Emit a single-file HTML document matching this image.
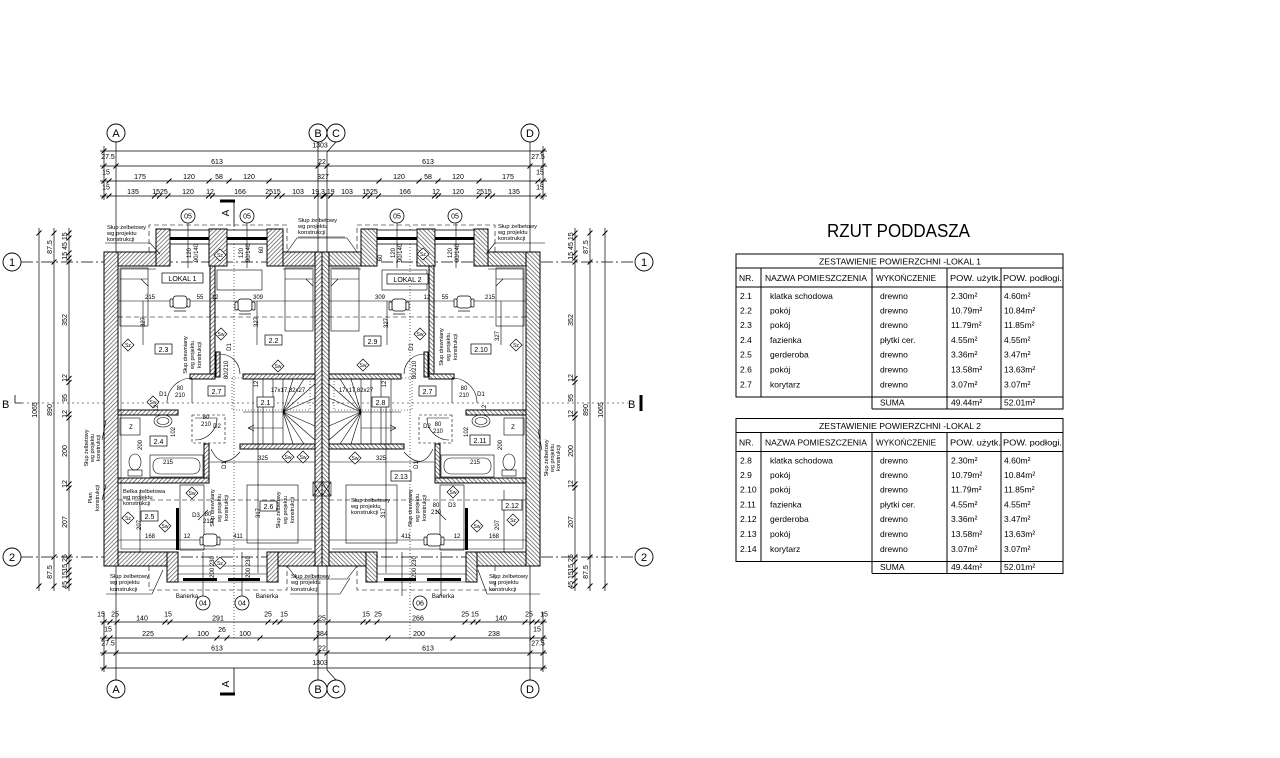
<!DOCTYPE html>
<html><head><meta charset="utf-8">
<style>
html,body{margin:0;padding:0;background:#fff}
svg{display:block}
text{font-family:"Liberation Sans",sans-serif;fill:#000}
.d{font-size:7px;text-anchor:middle}
.s{font-size:6px;text-anchor:middle}
.x{font-size:5px;text-anchor:middle}
.tb{font-size:8.5px}
.g{font-size:11px;text-anchor:middle}
</style></head><body>
<svg width="1280" height="758" viewBox="0 0 1280 758" xmlns="http://www.w3.org/2000/svg">
<defs>
<pattern id="h" width="3" height="3" patternUnits="userSpaceOnUse" patternTransform="rotate(45)"><rect width="3" height="3" fill="#fff"/><line x1="0" y1="0" x2="0" y2="3" stroke="#444" stroke-width="1.3"/></pattern>
</defs>
<rect width="1280" height="758" fill="#fff"/>

<!-- ===== GRID & DIMENSION LINES ===== -->
<g stroke="#000" stroke-width="0.7" fill="none">
<path d="M116 142V680M318 142V680M336 142L327 152V670L336 680M530 142V680"/>
<path d="M104 146V200M543 146V200M104 612V672M543 612V672"/>
<path d="M100 151H547M100 166H547M100 181H547M100 196H547"/>
<path d="M100 622H547M100 638H547M100 653H547M100 668H547"/>
<path d="M39 228V591M54 228V591M69 228V591M575 228V591M590 228V591M605 228V591"/>
</g>
<g stroke="#000" stroke-width="0.7" fill="none" stroke-dasharray="12 3 2 3">
<path d="M21 262H635M21 557H635"/>
</g>
<g stroke="#000" stroke-width="0.6" fill="none" stroke-dasharray="2 3">
<path d="M22 403H628"/>
</g>
<!-- ticks -->
<g stroke="#000" stroke-width="1" fill="none">
<path d="M101.5 153.5l5-5M540.5 153.5l5-5"/>
<path d="M101.5 168.5l5-5M113.5 168.5l5-5M315.5 168.5l5-5M324.5 168.5l5-5M527.5 168.5l5-5M540.5 168.5l5-5"/>
<path d="M101.5 183.5l5-5M106.5 183.5l5-5M166.5 183.5l5-5M206.5 183.5l5-5M226.5 183.5l5-5M266.5 183.5l5-5M376.5 183.5l5-5M416.5 183.5l5-5M435.5 183.5l5-5M476.5 183.5l5-5M535.5 183.5l5-5M540.5 183.5l5-5"/>
<path d="M101.5 198.5l5-5M106.5 198.5l5-5M152 198.5l5-5M157 198.5l5-5M165.5 198.5l5-5M206 198.5l5-5M210 198.5l5-5M266 198.5l5-5M274.5 198.5l5-5M279.5 198.5l5-5M314 198.5l5-5M320.5 198.5l5-5M321.5 198.5l5-5M328 198.5l5-5M362.5 198.5l5-5M367.5 198.5l5-5M376 198.5l5-5M432 198.5l5-5M436 198.5l5-5M476.5 198.5l5-5M485 198.5l5-5M490 198.5l5-5M535.5 198.5l5-5M540.5 198.5l5-5"/>
<path d="M101.5 624.5l5-5M107.5 624.5l5-5M114.5 624.5l5-5M162.5 624.5l5-5M167.5 624.5l5-5M265.5 624.5l5-5M272.5 624.5l5-5M277.5 624.5l5-5M313.5 624.5l5-5M325.5 624.5l5-5M360.5 624.5l5-5M365.5 624.5l5-5M374.5 624.5l5-5M462.5 624.5l5-5M470.5 624.5l5-5M475.5 624.5l5-5M522.5 624.5l5-5M529.5 624.5l5-5M534.5 624.5l5-5M540.5 624.5l5-5"/>
<path d="M101.5 640.5l5-5M107.5 640.5l5-5M182.5 640.5l5-5M214.5 640.5l5-5M224.5 640.5l5-5M257.5 640.5l5-5M313.5 640.5l5-5M385.5 640.5l5-5M450.5 640.5l5-5M529.5 640.5l5-5M540.5 640.5l5-5"/>
<path d="M101.5 655.5l5-5M113.5 655.5l5-5M315.5 655.5l5-5M324.5 655.5l5-5M527.5 655.5l5-5M540.5 655.5l5-5"/>
<path d="M101.5 670.5l5-5M540.5 670.5l5-5"/>
<path d="M36.5 235.5l5-5M36.5 588.5l5-5M51.5 235.5l5-5M51.5 264.5l5-5M51.5 559.5l5-5M51.5 588.5l5-5"/>
<path d="M66.5 235.5l5-5M66.5 240.5l5-5M66.5 255.5l5-5M66.5 260.5l5-5M66.5 264.5l5-5M66.5 381l5-5M66.5 385l5-5M66.5 416.5l5-5M66.5 420.5l5-5M66.5 486.5l5-5M66.5 490.5l5-5M66.5 559.5l5-5M66.5 564.5l5-5M66.5 572.5l5-5M66.5 577.5l5-5M66.5 583.5l5-5M66.5 588.5l5-5"/>
<path d="M602.5 235.5l5-5M602.5 588.5l5-5M587.5 235.5l5-5M587.5 264.5l5-5M587.5 559.5l5-5M587.5 588.5l5-5"/>
<path d="M572.5 235.5l5-5M572.5 240.5l5-5M572.5 255.5l5-5M572.5 260.5l5-5M572.5 264.5l5-5M572.5 381l5-5M572.5 385l5-5M572.5 416.5l5-5M572.5 420.5l5-5M572.5 486.5l5-5M572.5 490.5l5-5M572.5 559.5l5-5M572.5 564.5l5-5M572.5 572.5l5-5M572.5 577.5l5-5M572.5 583.5l5-5M572.5 588.5l5-5"/>
</g>

<!-- grid circles -->
<g stroke="#000" stroke-width="0.9" fill="#fff">
<circle cx="116" cy="133" r="9"/><circle cx="318" cy="133" r="9"/><circle cx="336" cy="133" r="9"/><circle cx="530" cy="133" r="9"/>
<circle cx="116" cy="689" r="9"/><circle cx="318" cy="689" r="9"/><circle cx="336" cy="689" r="9"/><circle cx="530" cy="689" r="9"/>
<circle cx="12" cy="262" r="9"/><circle cx="12" cy="557" r="9"/><circle cx="644" cy="262" r="9"/><circle cx="644" cy="557" r="9"/>
</g>
<text class="g" x="116" y="137">A</text><text class="g" x="318" y="137">B</text><text class="g" x="336" y="137">C</text><text class="g" x="530" y="137">D</text>
<text class="g" x="116" y="693">A</text><text class="g" x="318" y="693">B</text><text class="g" x="336" y="693">C</text><text class="g" x="530" y="693">D</text>
<text class="g" x="12" y="266">1</text><text class="g" x="12" y="561">2</text><text class="g" x="644" y="266">1</text><text class="g" x="644" y="561">2</text>

<!-- section markers -->
<g stroke="#000" fill="none">
<path d="M220 201H235" stroke-width="3"/><path d="M234 201V226" stroke-width="0.8"/>
<path d="M220 694H235" stroke-width="3"/><path d="M234 668V694" stroke-width="0.8"/>
<path d="M15 403H22M15 395V403" stroke-width="0.8"/>
<path d="M641 395V411" stroke-width="3"/>
</g>
<text font-size="10" text-anchor="middle" transform="translate(229,213) rotate(-90)">A</text>
<text font-size="10" text-anchor="middle" transform="translate(229,684) rotate(-90)">A</text>
<text font-size="11" x="2" y="408">B</text>
<text font-size="11" x="628" y="408">B</text>

<!-- ===== LEFT HALF GEOMETRY ===== -->
<g id="L">
 <g fill="none" stroke="#000" stroke-width="0.6" stroke-dasharray="1 2">
  <path d="M234 226V640"/>
  <path d="M232 378H310V410H232Z"/>
 </g>
 <g fill="url(#h)" stroke="#000" stroke-width="1">
  <rect x="104" y="252" width="14" height="314"/>
  <rect x="118" y="252" width="38" height="14"/>
  <rect x="156" y="229" width="14" height="37"/>
  <rect x="209" y="229" width="18" height="37"/>
  <rect x="267" y="229" width="16" height="37"/>
  <rect x="283" y="252" width="32" height="14"/>
  <rect x="118" y="552" width="49" height="14"/>
  <rect x="167" y="552" width="11" height="30"/>
  <rect x="267" y="552" width="11" height="30"/>
  <rect x="278" y="552" width="37" height="14"/>
  <rect x="315" y="252" width="7" height="314"/>
  <rect x="210" y="266" width="5" height="108"/>
  <rect x="190" y="374" width="25" height="5"/>
  <rect x="216" y="352" width="4" height="25"/>
  <rect x="243" y="374" width="72" height="5"/>
  <rect x="240" y="444" width="75" height="5"/>
  <rect x="118" y="410" width="60" height="5"/>
  <rect x="204" y="444" width="5" height="39"/>
  <rect x="118" y="478" width="91" height="5"/>
 </g>
 <g fill="none" stroke="#000" stroke-width="0.5">
  <path d="M121 269V549H312M121 269H156M283 269H312"/>
 </g>
 <g stroke="#000" stroke-width="0.8" fill="#fff">
  <rect x="170" y="230" width="39" height="14"/>
  <rect x="227" y="230" width="40" height="14"/>
 </g>
 <rect x="170" y="237" width="39" height="3" fill="#000"/>
 <rect x="227" y="237" width="40" height="3" fill="#000"/>
 <rect x="183" y="578" width="34" height="3" fill="#000"/>
 <rect x="228" y="578" width="32" height="3" fill="#000"/>
 <rect x="176" y="508" width="3" height="42" fill="#000"/>
 <g fill="none" stroke="#000" stroke-width="0.6" stroke-dasharray="5 3">
  <path d="M149 252V225H287V252"/>
  <path d="M149 566V590H287V566"/>
  <path d="M118 317H315"/>
  <path d="M118 500H315"/>
 </g>
 <g fill="none" stroke="#000" stroke-width="0.6">
  <path d="M287 252L297 238H322M287 566L297 579H322"/>
  <path d="M178 566H267M178 574H267M178 582H267"/>
  <path d="M188 223V268M247 223V268M203 596V552M242 596V552"/>
  <rect x="120" y="268" width="28" height="58"/>
  <path d="M120 279H148M141 279L148 286"/>
  <rect x="285" y="268" width="28" height="63"/>
  <path d="M285 279H313M306 279L313 286"/>
  <rect x="217" y="270" width="45" height="20"/>
  <path d="M118 301H315M210 462H315M118 540H315"/>
  <path d="M143 301V345M257 301V345M140 490V552M258 400V573"/>
  <path d="M243 412H283M253 379V444M263 379V444M273 379V444M283 379V444"/>
  <path d="M283 412L293 379M283 412L304 379M283 412L315 384M283 412L315 398M283 412L315 412M283 412L315 426M283 412L315 440M283 412L304 444M283 412L293 444"/>
  <path d="M248 428H283M248 428l6-3M248 428l6 3"/>
  <rect x="247" y="485" width="51" height="58"/>
  <rect x="180" y="485" width="24" height="65"/>
  <path d="M167 403A25 25 0 0 1 192 378M192 378V403"/>
  <path d="M220 354A20 20 0 0 1 240 374M220 354V374"/>
  <path d="M217 418A22 22 0 0 1 195 440M195 418H217"/>
  <path d="M211 449Q222 472 240 452"/>
  <rect x="192" y="415" width="33" height="28" stroke-dasharray="3 2"/>
  <ellipse cx="163" cy="421" rx="9" ry="6"/>
  <ellipse cx="163" cy="421" rx="6" ry="3.5"/>
  <rect x="120" y="418" width="20" height="17"/>
  <ellipse cx="135" cy="462" rx="6" ry="8"/>
  <rect x="128" y="470" width="14" height="6"/>
  <rect x="150" y="455" width="53" height="22"/>
  <rect x="153" y="458" width="47" height="16" rx="7"/>
  <rect x="313" y="482" width="9" height="14"/>
  <path d="M313 482L322 496M322 482L313 496"/>
  <path d="M208 510L198 520"/>
 </g>
 <g fill="#fff" stroke="#000" stroke-width="0.7">
  <g transform="translate(180,302)"><rect x="-7" y="-6" width="14" height="12" rx="3"/><rect x="-10" y="-3" width="3" height="8" rx="1"/><rect x="7" y="-3" width="3" height="8" rx="1"/><path d="M-6 9H6" fill="none"/></g>
  <g transform="translate(245,305)"><rect x="-7" y="-6" width="14" height="12" rx="3"/><rect x="-10" y="-3" width="3" height="8" rx="1"/><rect x="7" y="-3" width="3" height="8" rx="1"/><path d="M-6 9H6" fill="none"/></g>
  <g transform="translate(210,540)"><rect x="-7" y="-6" width="14" height="12" rx="3"/><rect x="-10" y="-3" width="3" height="8" rx="1"/><rect x="7" y="-3" width="3" height="8" rx="1"/></g>
 </g>
</g>
<use href="#L" transform="matrix(-1 0 0 1 644 0)"/>

<!-- leader lines for labels -->
<g fill="none" stroke="#000" stroke-width="0.6">
<path d="M105 243H150L160 254"/>
<path d="M298 237H345"/>
<path d="M495 243H545M495 243L486 254"/>
<path d="M106 594H152L163 570"/>
<path d="M290 594H340L350 578"/>
<path d="M487 594H540M487 594L478 570"/>
<path d="M102 440L106 420M102 500L106 485M542 450L538 430"/>
</g>

<!-- 05 / 04 / 06 circles -->
<g stroke="#000" stroke-width="0.8" fill="#fff">
<circle cx="188" cy="216" r="7"/><circle cx="247" cy="216" r="7"/><circle cx="397" cy="216" r="7"/><circle cx="455" cy="216" r="7"/>
<circle cx="203" cy="603" r="7"/><circle cx="242" cy="603" r="7"/><circle cx="420" cy="603" r="7"/>
</g>
<text class="d" x="188" y="218.5">05</text><text class="d" x="247" y="218.5">05</text><text class="d" x="397" y="218.5">05</text><text class="d" x="455" y="218.5">05</text>
<text class="d" x="203" y="605.5">04</text><text class="d" x="242" y="605.5">04</text><text class="d" x="420" y="605.5">06</text>
<text class="s" x="187" y="598">Barierka</text><text class="s" x="267" y="598">Barierka</text><text class="s" x="443" y="598">Barierka</text>

<!-- top dims text -->
<text class="d" x="320" y="147.5">1303</text>
<text class="d" x="108" y="159">27.5</text><text class="d" x="217" y="164">613</text><text class="d" x="322" y="164">22</text><text class="d" x="428" y="164">613</text><text class="d" x="538" y="159">27.5</text>
<text class="d" x="106" y="174.5">15</text><text class="d" x="140" y="179">175</text><text class="d" x="189" y="179">120</text><text class="d" x="219" y="179">58</text><text class="d" x="249" y="179">120</text><text class="d" x="323" y="179">327</text><text class="d" x="399" y="179">120</text><text class="d" x="428" y="179">58</text><text class="d" x="458" y="179">120</text><text class="d" x="508" y="179">175</text><text class="d" x="540" y="174.5">15</text>
<text class="d" x="106" y="189.5">15</text><text class="d" x="133" y="194">135</text><text class="d" x="160" y="194">1525</text><text class="d" x="188" y="194">120</text><text class="d" x="210" y="194">12</text><text class="d" x="240" y="194">166</text><text class="d" x="273" y="194">2515</text><text class="d" x="298" y="194">103</text><text class="d" x="323" y="194">19,3 19</text><text class="d" x="347" y="194">103</text><text class="d" x="370" y="194">1525</text><text class="d" x="405" y="194">166</text><text class="d" x="436" y="194">12</text><text class="d" x="458" y="194">120</text><text class="d" x="484" y="194">2515</text><text class="d" x="514" y="194">135</text><text class="d" x="540" y="189.5">15</text>

<!-- bottom dims text -->
<text class="d" x="101" y="616.5">15</text><text class="d" x="115" y="616.5">25</text><text class="d" x="142" y="620.5">140</text><text class="d" x="168" y="616.5">15</text><text class="d" x="218" y="620.5">291</text><text class="d" x="268" y="616.5">25</text><text class="d" x="284" y="616.5">15</text><text class="d" x="322" y="620.5">25</text><text class="d" x="366" y="616.5">15</text><text class="d" x="378" y="616.5">25</text><text class="d" x="418" y="620.5">266</text><text class="d" x="470" y="616.5">25 15</text><text class="d" x="501" y="620.5">140</text><text class="d" x="529" y="616.5">25</text><text class="d" x="544" y="616.5">15</text>
<text class="d" x="108" y="631.5">15</text><text class="d" x="148" y="636">225</text><text class="d" x="203" y="636">100</text><text class="d" x="222" y="632">26</text><text class="d" x="245" y="636">100</text><text class="d" x="322" y="636">384</text><text class="d" x="419" y="636">200</text><text class="d" x="494" y="636">238</text><text class="d" x="537" y="631.5">15</text>
<text class="d" x="108" y="645.5">27.5</text><text class="d" x="217" y="650.5">613</text><text class="d" x="322" y="650.5">22</text><text class="d" x="428" y="650.5">613</text><text class="d" x="538" y="645.5">27.5</text>
<text class="d" x="320" y="665">1303</text>

<!-- vertical dims -->
<g class="d">
<text transform="translate(37,410) rotate(-90)">1065</text>
<text transform="translate(52,410) rotate(-90)">890</text>
<text transform="translate(52,247) rotate(-90)">87.5</text>
<text transform="translate(52,572) rotate(-90)">87.5</text>
<text transform="translate(67,246) rotate(-90)">15 45 15</text>
<text transform="translate(67,320) rotate(-90)">352</text>
<text transform="translate(67,378) rotate(-90)">12</text>
<text transform="translate(67,398) rotate(-90)">95</text>
<text transform="translate(67,414) rotate(-90)">12</text>
<text transform="translate(67,451) rotate(-90)">200</text>
<text transform="translate(67,484) rotate(-90)">12</text>
<text transform="translate(67,522) rotate(-90)">207</text>
<text transform="translate(67,563) rotate(-90)">15 25</text>
<text transform="translate(67,580) rotate(-90)">45 15</text>
<text transform="translate(603,410) rotate(-90)">1065</text>
<text transform="translate(588,410) rotate(-90)">890</text>
<text transform="translate(588,247) rotate(-90)">87.5</text>
<text transform="translate(588,572) rotate(-90)">87.5</text>
<text transform="translate(573,246) rotate(-90)">15 45 15</text>
<text transform="translate(573,320) rotate(-90)">352</text>
<text transform="translate(573,378) rotate(-90)">12</text>
<text transform="translate(573,398) rotate(-90)">95</text>
<text transform="translate(573,414) rotate(-90)">12</text>
<text transform="translate(573,451) rotate(-90)">200</text>
<text transform="translate(573,484) rotate(-90)">12</text>
<text transform="translate(573,522) rotate(-90)">207</text>
<text transform="translate(573,563) rotate(-90)">15 25</text>
<text transform="translate(573,580) rotate(-90)">45 15</text>
</g>

<!-- room label boxes -->
<g fill="#fff" stroke="#000" stroke-width="0.7">
<rect x="162" y="273" width="41" height="10"/><rect x="387" y="274" width="41" height="10"/>
<rect x="155" y="344" width="17" height="10"/><rect x="265" y="335" width="17" height="10"/>
<rect x="208" y="386" width="17" height="10"/><rect x="257" y="397" width="17" height="10"/>
<rect x="150" y="436" width="17" height="10"/><rect x="141" y="511" width="17" height="10"/>
<rect x="260" y="501" width="17" height="10"/>
<rect x="364" y="336" width="17" height="10"/><rect x="471" y="344" width="20" height="10"/>
<rect x="419" y="386" width="17" height="10"/><rect x="372" y="397" width="17" height="10"/>
<rect x="470" y="435" width="20" height="10"/><rect x="502" y="500" width="20" height="10"/>
<rect x="391" y="471" width="20" height="10"/>
</g>
<g class="d">
<text x="182.5" y="281">LOKAL 1</text><text x="407.5" y="282">LOKAL 2</text>
<text x="163.5" y="352">2.3</text><text x="273.5" y="343">2.2</text>
<text x="216.5" y="394">2.7</text><text x="265.5" y="405">2.1</text>
<text x="158.5" y="444">2.4</text><text x="149.5" y="519">2.5</text>
<text x="268.5" y="509">2.6</text>
<text x="372.5" y="344">2.9</text><text x="481" y="352">2.10</text>
<text x="427.5" y="394">2.7</text><text x="380.5" y="405">2.8</text>
<text x="480" y="443">2.11</text><text x="512" y="508">2.12</text>
<text x="401" y="479">2.13</text>
</g>

<!-- diamonds -->
<g fill="#fff" stroke="#000" stroke-width="0.7">
<path d="M128 339l6 6-6 6-6-6z M221 328l6 6-6 6-6-6z M220 249l6 6-6 6-6-6z M278 360l6 6-6 6-6-6z M153 396l6 6-6 6-6-6z M128 512l6 6-6 6-6-6z M165 520l6 6-6 6-6-6z M192 487l6 6-6 6-6-6z M220 557l6 6-6 6-6-6z M288 451l6 6-6 6-6-6z M303 451l6 6-6 6-6-6z"/>
<path d="M516 339l6 6-6 6-6-6z M420 328l6 6-6 6-6-6z M423 248l6 6-6 6-6-6z M363 359l6 6-6 6-6-6z M355 452l6 6-6 6-6-6z M453 486l6 6-6 6-6-6z M477 520l6 6-6 6-6-6z M513 514l6 6-6 6-6-6z"/>
</g>
<g class="x">
<text x="128" y="347">Sz</text><text x="221" y="336">Sw</text><text x="220" y="257">Sz</text><text x="278" y="368">Sw</text><text x="153" y="404">Sw</text><text x="128" y="520">Sz</text><text x="165" y="528">Sw</text><text x="192" y="495">Sw</text><text x="220" y="565">Sz</text><text x="288" y="459">Sw</text><text x="303" y="459">Sw</text>
<text x="516" y="347">Sz</text><text x="420" y="336">Sw</text><text x="423" y="256">Sz</text><text x="363" y="367">Sw</text><text x="355" y="460">Sw</text><text x="453" y="494">Sw</text><text x="477" y="528">Sw</text><text x="513" y="522">Sz</text>
</g>

<!-- small plan texts -->
<g class="s">
<text x="150" y="299">215</text><text x="200" y="299">55</text><text x="215" y="299">12</text><text x="258" y="299">309</text>
<text x="380" y="299">309</text><text x="427" y="299">12</text><text x="445" y="299">55</text><text x="490" y="299">215</text>
<text x="263" y="460">325</text><text x="381" y="460">325</text>
<text x="168" y="464">215</text><text x="475" y="464">215</text>
<text x="150" y="538">168</text><text x="187" y="538">12</text><text x="238" y="538">411</text>
<text x="406" y="538">411</text><text x="457" y="538">12</text><text x="494" y="538">168</text>
<text x="288" y="392">17x17,82x27</text><text x="356" y="392">17x17,82x27</text>
<text x="163" y="396">D1</text><text x="217" y="428">D2</text><text x="196" y="517">D3</text>
<text x="481" y="396">D1</text><text x="427" y="428">D2</text><text x="452" y="507">D3</text>
<text x="180" y="390">80</text><text x="180" y="397">210</text>
<text x="464" y="390">80</text><text x="464" y="397">210</text>
<text x="206" y="419">80</text><text x="206" y="426">210</text>
<text x="438" y="426">80</text><text x="438" y="433">210</text>
<text x="208" y="516">80</text><text x="208" y="523">210</text>
<text x="436" y="507">80</text><text x="436" y="514">210</text>
<text x="131" y="429">Z</text><text x="513" y="429">Z</text>
<text transform="translate(145,322) rotate(-90)">327</text><text transform="translate(258,322) rotate(-90)">327</text>
<text transform="translate(388,323) rotate(-90)">327</text><text transform="translate(499,336) rotate(-90)">327</text>
<text transform="translate(142,445) rotate(-90)">200</text><text transform="translate(502,445) rotate(-90)">200</text>
<text transform="translate(141,525) rotate(-90)">207</text><text transform="translate(499,525) rotate(-90)">207</text>
<text transform="translate(260,513) rotate(-90)">317</text><text transform="translate(385,513) rotate(-90)">317</text>
<text transform="translate(175,432) rotate(-90)">102</text><text transform="translate(468,432) rotate(-90)">102</text>
<text transform="translate(191,253) rotate(-90)">120</text><text transform="translate(198,253) rotate(-90)">90/140</text>
<text transform="translate(243,253) rotate(-90)">120</text><text transform="translate(250,253) rotate(-90)">90/140</text>
<text transform="translate(263,250) rotate(-90)">60</text><text transform="translate(382,258) rotate(-90)">60</text>
<text transform="translate(395,253) rotate(-90)">120</text><text transform="translate(402,253) rotate(-90)">90/140</text>
<text transform="translate(452,253) rotate(-90)">120</text><text transform="translate(459,253) rotate(-90)">90/140</text>
<text transform="translate(158,408) rotate(-90)">12</text><text transform="translate(258,384) rotate(-90)">12</text>
<text transform="translate(386,384) rotate(-90)">12</text><text transform="translate(486,408) rotate(-90)">12</text>
<text transform="translate(231,347) rotate(-90)">D1</text><text transform="translate(413,347) rotate(-90)">D1</text>
<text transform="translate(228,370) rotate(-90)">80/210</text><text transform="translate(416,370) rotate(-90)">80/210</text>
<text transform="translate(226,465) rotate(-90)">D1</text><text transform="translate(418,465) rotate(-90)">D1</text>
<text transform="translate(214,567) rotate(-90)">200 230</text><text transform="translate(250,567) rotate(-90)">200 230</text>
<text transform="translate(416,567) rotate(-90)">200 230</text>
</g>

<!-- Slup labels -->
<g style="font-size:5.8px">
<text x="107" y="229">Słup żelbetowy</text><text x="107" y="235">wg projektu</text><text x="107" y="241">konstrukcji</text>
<text x="298" y="222">Słup żelbetowy</text><text x="298" y="228">wg projektu</text><text x="298" y="234">konstrukcji</text>
<text x="498" y="228">Słup żelbetowy</text><text x="498" y="234">wg projektu</text><text x="498" y="240">konstrukcji</text>
<text x="110" y="578">Słup żelbetowy</text><text x="110" y="584">wg projektu</text><text x="110" y="591">konstrukcji</text>
<text x="291" y="578">Słup żelbetowy</text><text x="291" y="584">wg projektu</text><text x="291" y="591">konstrukcji</text>
<text x="489" y="578">Słup żelbetowy</text><text x="489" y="584">wg projektu</text><text x="489" y="591">konstrukcji</text>
<text x="123" y="493">Belka żelbetowa</text><text x="123" y="499">wg projektu</text><text x="123" y="505">konstrukcji</text>
<text x="351" y="502">Słup żelbetowy</text><text x="351" y="508">wg projektu</text><text x="351" y="514">konstrukcji</text>
</g>
<g style="font-size:5.5px;text-anchor:middle">
<text transform="translate(187,355) rotate(-90)">Słup drewniany</text><text transform="translate(194,355) rotate(-90)">wg projektu</text><text transform="translate(201,355) rotate(-90)">konstrukcji</text>
<text transform="translate(443,347) rotate(-90)">Słup drewniany</text><text transform="translate(450,347) rotate(-90)">wg projektu</text><text transform="translate(457,347) rotate(-90)">konstrukcji</text>
<text transform="translate(214,508) rotate(-90)">Słup drewniany</text><text transform="translate(221,508) rotate(-90)">wg projektu</text><text transform="translate(228,508) rotate(-90)">konstrukcji</text>
<text transform="translate(412,508) rotate(-90)">Słup drewniany</text><text transform="translate(419,508) rotate(-90)">wg projektu</text><text transform="translate(426,508) rotate(-90)">konstrukcji</text>
<text transform="translate(280,510) rotate(-90)">Słup żelbetowy</text><text transform="translate(287,510) rotate(-90)">wg projektu</text><text transform="translate(294,510) rotate(-90)">konstrukcji</text>
<text transform="translate(88,448) rotate(-90)">Słup żelbetowy</text><text transform="translate(94,448) rotate(-90)">wg projektu</text><text transform="translate(100,448) rotate(-90)">konstrukcji</text>
<text transform="translate(92,498) rotate(-90)">Plan</text><text transform="translate(99,498) rotate(-90)">konstrukcji</text>
<text transform="translate(548,458) rotate(-90)">Słup żelbetowy</text><text transform="translate(554,458) rotate(-90)">wg projektu</text><text transform="translate(560,458) rotate(-90)">konstrukcji</text>
</g>

<!-- ===== TITLE ===== -->
<text x="827" y="237" font-size="18" textLength="143" lengthAdjust="spacingAndGlyphs">RZUT PODDASZA</text>

<!-- ===== TABLE 1 ===== -->
<g>
<g stroke="#000" stroke-width="1" fill="none">
<rect x="736" y="254" width="327" height="143"/>
<path d="M736 268H1063M736 287H1063M761 268V397M872 268V409M947 268V409M1001 268V409M872 409H1063V397"/>
</g>
<text class="tb" x="900" y="264.5" text-anchor="middle" textLength="162" lengthAdjust="spacingAndGlyphs">ZESTAWIENIE POWIERZCHNI -LOKAL 1</text>
<text class="tb" x="739" y="281">NR.</text>
<text class="tb" x="765" y="281" textLength="102" lengthAdjust="spacingAndGlyphs">NAZWA POMIESZCZENIA</text>
<text class="tb" x="876" y="281" textLength="60" lengthAdjust="spacingAndGlyphs">WYKOŃCZENIE</text>
<text class="tb" x="950" y="281" textLength="51" lengthAdjust="spacingAndGlyphs">POW. użytk.</text>
<text class="tb" x="1003" y="281" textLength="59" lengthAdjust="spacingAndGlyphs">POW. podłogi.</text>
<g class="tb">
<text x="740" y="299">2.1</text><text x="770" y="299">klatka schodowa</text><text x="880" y="299">drewno</text><text x="951" y="299">2.30m²</text><text x="1004" y="299">4.60m²</text>
<text x="740" y="313.5">2.2</text><text x="770" y="313.5">pokój</text><text x="880" y="313.5">drewno</text><text x="951" y="313.5">10.79m²</text><text x="1004" y="313.5">10.84m²</text>
<text x="740" y="328">2.3</text><text x="770" y="328">pokój</text><text x="880" y="328">drewno</text><text x="951" y="328">11.79m²</text><text x="1004" y="328">11.85m²</text>
<text x="740" y="343">2.4</text><text x="770" y="343">fazienka</text><text x="880" y="343">płytki cer.</text><text x="951" y="343">4.55m²</text><text x="1004" y="343">4.55m²</text>
<text x="740" y="357.5">2.5</text><text x="770" y="357.5">gerderoba</text><text x="880" y="357.5">drewno</text><text x="951" y="357.5">3.36m²</text><text x="1004" y="357.5">3.47m²</text>
<text x="740" y="372.5">2.6</text><text x="770" y="372.5">pokój</text><text x="880" y="372.5">drewno</text><text x="951" y="372.5">13.58m²</text><text x="1004" y="372.5">13.63m²</text>
<text x="740" y="387.5">2.7</text><text x="770" y="387.5">korytarz</text><text x="880" y="387.5">drewno</text><text x="951" y="387.5">3.07m²</text><text x="1004" y="387.5">3.07m²</text>
<text x="880" y="405.5">SUMA</text><text x="951" y="405.5">49.44m²</text><text x="1004" y="405.5">52.01m²</text>
</g>
</g>

<!-- ===== TABLE 2 ===== -->
<g transform="translate(0,164.5)">
<g stroke="#000" stroke-width="1" fill="none">
<rect x="736" y="254" width="327" height="143"/>
<path d="M736 268H1063M736 287H1063M761 268V397M872 268V409M947 268V409M1001 268V409M872 409H1063V397"/>
</g>
<text class="tb" x="900" y="264.5" text-anchor="middle" textLength="162" lengthAdjust="spacingAndGlyphs">ZESTAWIENIE POWIERZCHNI -LOKAL 2</text>
<text class="tb" x="739" y="281">NR.</text>
<text class="tb" x="765" y="281" textLength="102" lengthAdjust="spacingAndGlyphs">NAZWA POMIESZCZENIA</text>
<text class="tb" x="876" y="281" textLength="60" lengthAdjust="spacingAndGlyphs">WYKOŃCZENIE</text>
<text class="tb" x="950" y="281" textLength="51" lengthAdjust="spacingAndGlyphs">POW. użytk.</text>
<text class="tb" x="1003" y="281" textLength="59" lengthAdjust="spacingAndGlyphs">POW. podłogi.</text>
<g class="tb">
<text x="740" y="299">2.8</text><text x="770" y="299">klatka schodowa</text><text x="880" y="299">drewno</text><text x="951" y="299">2.30m²</text><text x="1004" y="299">4.60m²</text>
<text x="740" y="313.5">2.9</text><text x="770" y="313.5">pokój</text><text x="880" y="313.5">drewno</text><text x="951" y="313.5">10.79m²</text><text x="1004" y="313.5">10.84m²</text>
<text x="740" y="328">2.10</text><text x="770" y="328">pokój</text><text x="880" y="328">drewno</text><text x="951" y="328">11.79m²</text><text x="1004" y="328">11.85m²</text>
<text x="740" y="343">2.11</text><text x="770" y="343">fazienka</text><text x="880" y="343">płytki cer.</text><text x="951" y="343">4.55m²</text><text x="1004" y="343">4.55m²</text>
<text x="740" y="357.5">2.12</text><text x="770" y="357.5">gerderoba</text><text x="880" y="357.5">drewno</text><text x="951" y="357.5">3.36m²</text><text x="1004" y="357.5">3.47m²</text>
<text x="740" y="372.5">2.13</text><text x="770" y="372.5">pokój</text><text x="880" y="372.5">drewno</text><text x="951" y="372.5">13.58m²</text><text x="1004" y="372.5">13.63m²</text>
<text x="740" y="387.5">2.14</text><text x="770" y="387.5">korytarz</text><text x="880" y="387.5">drewno</text><text x="951" y="387.5">3.07m²</text><text x="1004" y="387.5">3.07m²</text>
<text x="880" y="405.5">SUMA</text><text x="951" y="405.5">49.44m²</text><text x="1004" y="405.5">52.01m²</text>
</g>
</g>
</svg>
</body></html>
